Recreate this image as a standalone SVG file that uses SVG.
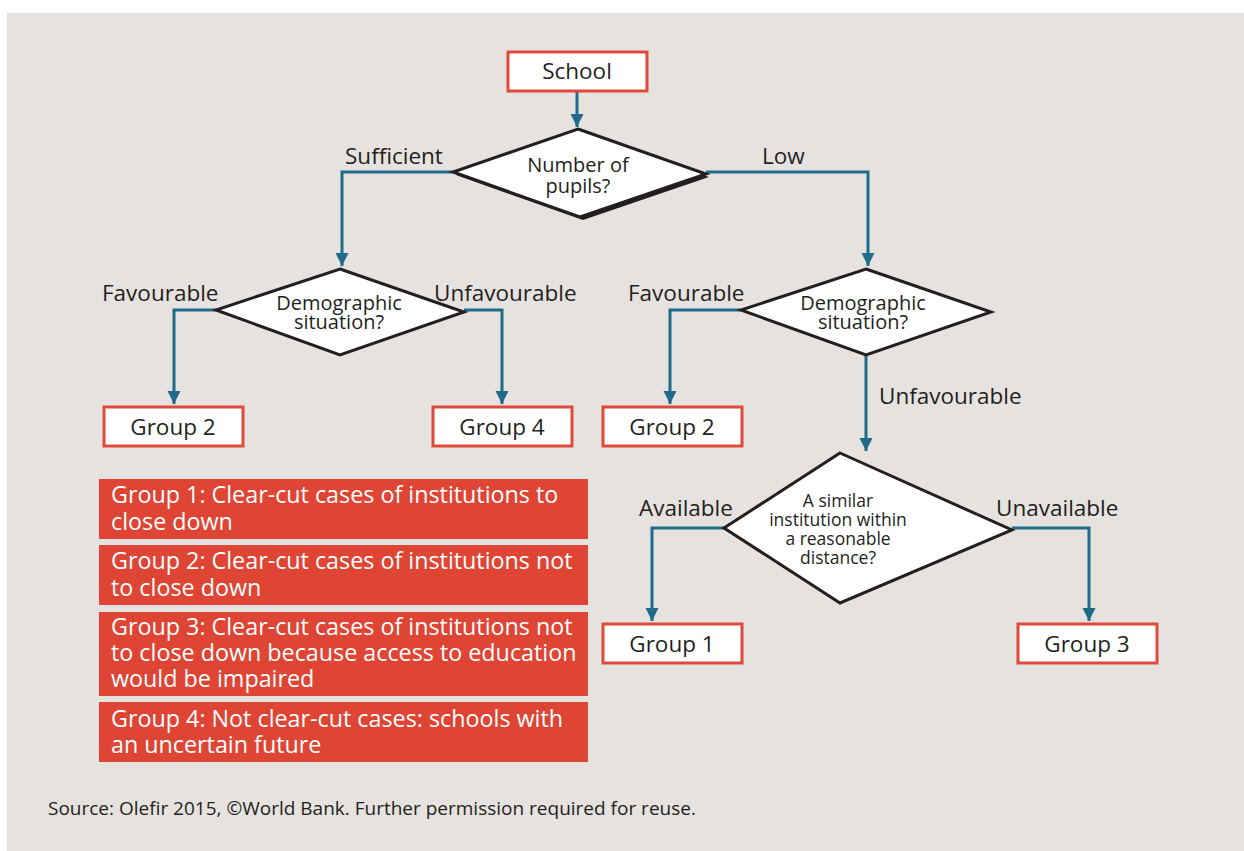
<svg xmlns="http://www.w3.org/2000/svg" width="1244" height="851" viewBox="0 0 1244 851">
<defs>
<style>
.t{font-family:"Open Sans","Noto Sans","Liberation Sans",sans-serif;fill:#231f20}
.lbl{font-size:22.5px}
.box{fill:#fff;stroke:#e04a3a;stroke-width:3}
.dia{fill:#fff;stroke:#231f20;stroke-width:3;stroke-linejoin:miter}
.dt{font-size:20px;text-anchor:middle}
.ds{font-size:17.5px;text-anchor:middle}
.bt{font-size:22.5px;text-anchor:middle}
.leg{fill:#de4535}
.lt{font-family:"Open Sans","Noto Sans","Liberation Sans",sans-serif;fill:#fff;font-size:23.3px}
.con{fill:none;stroke:#1f6b8a;stroke-width:3}
</style>
<marker id="ah" viewBox="0 0 10 10" refX="10" refY="5" markerWidth="4.5" markerHeight="5" markerUnits="strokeWidth" orient="auto">
<path d="M0,0 L10,5 L0,10 z" fill="#1f6b8a"/>
</marker>
</defs>
<rect x="7" y="13" width="1237" height="838" fill="#e6e2df"/>

<g id="connectors">
<path class="con" d="M577,91 V127" marker-end="url(#ah)"/>
<path class="con" d="M453,172 H342 V266" marker-end="url(#ah)"/>
<path class="con" d="M706,172 H868 V266" marker-end="url(#ah)"/>
<path class="con" d="M216,310 H174 V404" marker-end="url(#ah)"/>
<path class="con" d="M464,310 H502 V404" marker-end="url(#ah)"/>
<path class="con" d="M741,310 H670 V404" marker-end="url(#ah)"/>
<path class="con" d="M866,355 V451" marker-end="url(#ah)"/>
<path class="con" d="M724,528 H652 V621" marker-end="url(#ah)"/>
<path class="con" d="M1012,528 H1089 V621" marker-end="url(#ah)"/>
<text class="t lbl" x="345" y="164">Sufficient</text>
<text class="t lbl" x="762" y="164">Low</text>
<text class="t lbl" x="102" y="301">Favourable</text>
<text class="t lbl" x="434" y="301">Unfavourable</text>
<text class="t lbl" x="628" y="301">Favourable</text>
<text class="t lbl" x="879" y="404">Unfavourable</text>
<text class="t lbl" x="639" y="516">Available</text>
<text class="t lbl" x="996" y="516">Unavailable</text>
</g>

<g id="school">
<rect class="box" x="508" y="52" width="139" height="39"/>
<text class="t bt" x="577" y="79">School</text>
</g>

<g id="d-pupils">
<polygon points="581,132 709,177 583,220 456,175" fill="#231f20"/>
<polygon class="dia" points="578,129 706,174 580,217 453,172"/>
<text class="t dt" x="578" y="172">Number of</text>
<text class="t dt" x="578" y="193">pupils?</text>
</g>

<g id="d-demo-left">
<polygon class="dia" points="340,269 464,312 340,355 216,310"/>
<text class="t dt" x="339" y="310">Demographic</text>
<text class="t dt" x="339" y="329">situation?</text>
</g>

<g id="d-demo-right">
<polygon class="dia" points="866,269 991,312 866,355 741,310"/>
<text class="t dt" x="863" y="310">Demographic</text>
<text class="t dt" x="863" y="329">situation?</text>
</g>

<g id="d-similar">
<polygon class="dia" points="840,453 1012,530 840,603 724,528"/>
<text class="t ds" x="838" y="507">A similar</text>
<text class="t ds" x="838" y="526">institution within</text>
<text class="t ds" x="838" y="545">a reasonable</text>
<text class="t ds" x="838" y="564">distance?</text>
</g>

<g id="g2-left">
<rect class="box" x="104" y="407" width="139" height="39"/>
<text class="t bt" x="173" y="435">Group 2</text>
</g>
<g id="g4">
<rect class="box" x="433" y="407" width="139" height="39"/>
<text class="t bt" x="502" y="435">Group 4</text>
</g>
<g id="g2-right">
<rect class="box" x="603" y="407" width="139" height="39"/>
<text class="t bt" x="672" y="435">Group 2</text>
</g>
<g id="g1">
<rect class="box" x="603" y="624" width="139" height="39"/>
<text class="t bt" x="672" y="652">Group 1</text>
</g>
<g id="g3">
<rect class="box" x="1018" y="624" width="139" height="39"/>
<text class="t bt" x="1087" y="652">Group 3</text>
</g>

<g id="legend">
<rect class="leg" x="99" y="479" width="489" height="60"/>
<text class="lt" x="111" y="503">Group 1: Clear-cut cases of institutions to</text>
<text class="lt" x="111" y="530">close down</text>
<rect class="leg" x="99" y="545" width="489" height="60"/>
<text class="lt" x="111" y="569">Group 2: Clear-cut cases of institutions not</text>
<text class="lt" x="111" y="596">to close down</text>
<rect class="leg" x="99" y="612" width="489" height="84"/>
<text class="lt" x="111" y="635">Group 3: Clear-cut cases of institutions not</text>
<text class="lt" x="111" y="661">to close down because access to education</text>
<text class="lt" x="111" y="687">would be impaired</text>
<rect class="leg" x="99" y="702" width="489" height="60"/>
<text class="lt" x="111" y="727">Group 4: Not clear-cut cases: schools with</text>
<text class="lt" x="111" y="753">an uncertain future</text>
</g>

<text class="t" x="48" y="815" font-size="19" fill="#333">Source: Olefir 2015, ©World Bank. Further permission required for reuse.</text>
</svg>
